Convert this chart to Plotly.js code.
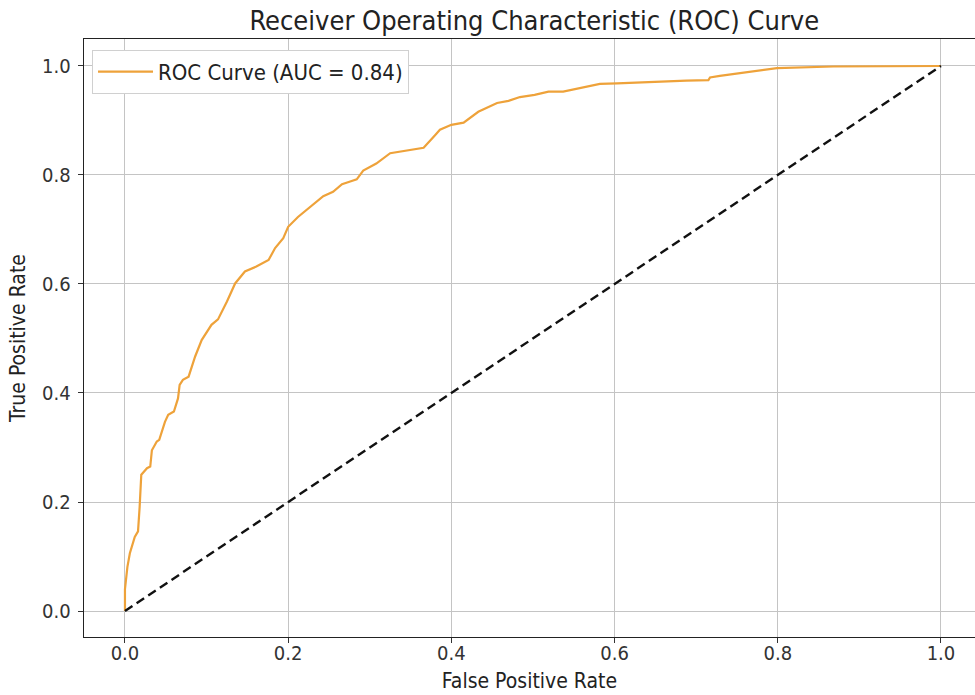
<!DOCTYPE html>
<html>
<head>
<meta charset="utf-8">
<script src="https://cdn.plot.ly/plotly-3.0.1.min.js"></script>
<style>html,body{margin:0;padding:0;background:#fff;}#chart{width:975px;height:695px;}</style>
</head>
<body>
<div id="chart"></div>
<script>
const fpr = [0, 0.000, 0.003, 0.006, 0.012, 0.016, 0.018, 0.020, 0.027, 0.031, 0.033, 0.039, 0.042, 0.049, 0.053, 0.060, 0.065, 0.067, 0.071, 0.078, 0.086, 0.094, 0.106, 0.114, 0.125, 0.135, 0.147, 0.161, 0.176, 0.184, 0.194, 0.200, 0.212, 0.227, 0.243, 0.255, 0.266, 0.276, 0.284, 0.292, 0.308, 0.325, 0.345, 0.366, 0.380, 0.386, 0.400, 0.415, 0.433, 0.456, 0.470, 0.484, 0.502, 0.519, 0.537, 0.558, 0.582, 0.603, 0.647, 0.688, 0.715, 0.717, 0.729, 0.799, 0.868, 1.0];
const tpr = [0, 0.040, 0.081, 0.106, 0.136, 0.146, 0.191, 0.250, 0.262, 0.265, 0.295, 0.311, 0.314, 0.347, 0.360, 0.366, 0.390, 0.415, 0.424, 0.430, 0.467, 0.497, 0.525, 0.535, 0.568, 0.601, 0.623, 0.632, 0.644, 0.666, 0.684, 0.705, 0.723, 0.742, 0.761, 0.769, 0.783, 0.788, 0.792, 0.808, 0.821, 0.840, 0.845, 0.850, 0.873, 0.883, 0.892, 0.896, 0.916, 0.932, 0.936, 0.943, 0.947, 0.953, 0.953, 0.959, 0.967, 0.968, 0.971, 0.973, 0.974, 0.979, 0.982, 0.996, 0.999, 1.0];
const chanceX = [0, 1];
const chanceY = [0, 1];
const rocName = 'ROC Curve (AUC = 0.84)';
const tickVals = [0, 0.2, 0.4, 0.6, 0.8, 1.0];
const tickText = ['0.0', '0.2', '0.4', '0.6', '0.8', '1.0'];

const font = 'DejaVu Sans Condensed, DejaVu Sans, sans-serif';
const traces = [
  {x: fpr, y: tpr, mode: 'lines', name: rocName, line: {color: '#eea23a', width: 2.2}},
  {x: chanceX, y: chanceY, mode: 'lines', showlegend: false, line: {color: '#111', width: 2.4, dash: '9px,5px'}}
];
const axisCommon = {
  tickvals: tickVals, ticktext: tickText, showgrid: true, gridcolor: '#c4c4c4', gridwidth: 1,
  zeroline: false, showline: true, linecolor: '#222', linewidth: 1.3, ticks: 'outside', ticklen: 5,
  tickcolor: '#333', tickfont: {family: font, size: 20, color: '#333'}
};
const layout = {
  width: 975, height: 695,
  margin: {l: 84, r: 0, t: 39, b: 58},
  paper_bgcolor: '#fff', plot_bgcolor: '#fff',
  title: {text: 'Receiver Operating Characteristic (ROC) Curve', font: {family: font, size: 27, color: '#222'}, x: 0.548, xanchor: 'center', y: 0.97, yanchor: 'middle'},
  xaxis: Object.assign({}, axisCommon, {range: [-0.0502, 1.0417], mirror: true, ticklabelstandoff: -7,
    title: {text: 'False Positive Rate', font: {family: font, size: 21, color: '#222'}, standoff: 9}}),
  yaxis: Object.assign({}, axisCommon, {range: [-0.0477, 1.0495], ticklabelstandoff: 3,
    title: {text: 'True Positive Rate', font: {family: font, size: 21, color: '#222'}, standoff: 10}}),
  showlegend: true,
  legend: {x: 0.009, y: 0.982, xanchor: 'left', yanchor: 'top', bgcolor: '#fff', bordercolor: '#d0d0d0', borderwidth: 1,
    itemwidth: 55, font: {family: font, size: 22, color: '#222'}}
};
Plotly.newPlot('chart', traces, layout, {displayModeBar: false, staticPlot: true});
</script>
</body>
</html>
